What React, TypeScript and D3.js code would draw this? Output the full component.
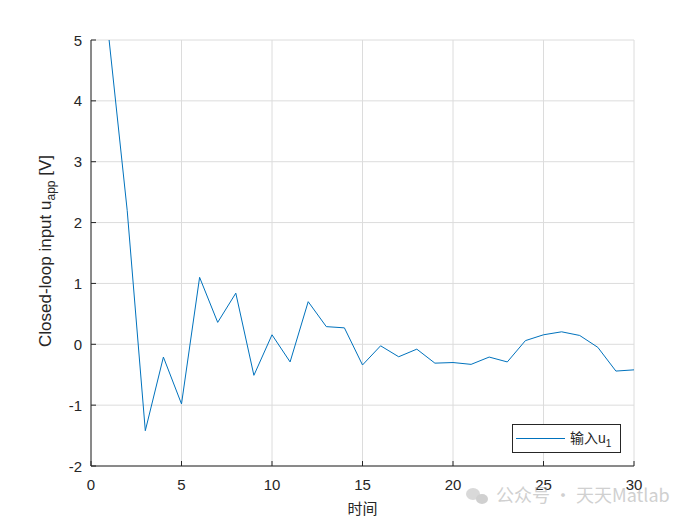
import React from "react";
import * as d3 from "d3";

const timeSteps = [1,2,3,4,5,6,7,8,9,10,11,12,13,14,15,16,17,18,19,20,21,22,23,24,25,26,27,28,29,30];
const inputU1 = [5.0,2.2,-1.42,-0.21,-0.98,1.10,0.36,0.84,-0.51,0.156,-0.29,0.70,0.29,0.27,-0.34,-0.025,-0.205,-0.08,-0.31,-0.30,-0.33,-0.21,-0.29,0.06,0.156,0.205,0.145,-0.05,-0.44,-0.42];
const xTicks = [0,5,10,15,20,25,30];
const yTicks = [-2,-1,0,1,2,3,4,5];

const W = 700, H = 525;
const L = 91, R = 634, T = 40, B = 466;

export default function App() {
  const x = d3.scaleLinear().domain([0, 30]).range([L, R]);
  const y = d3.scaleLinear().domain([-2, 5]).range([B, T]);
  const line = d3.line<number>().x((_, i) => x(timeSteps[i])).y(d => y(d));
  const font = "'Liberation Sans', Arial, Helvetica, sans-serif";
  const cjk = "'Noto Sans CJK SC', sans-serif";
  return (
    <svg width={W} height={H} style={{ position: "absolute", left: 0, top: 0, background: "#fff" }}>
      <rect x={0} y={0} width={W} height={H} fill="#fff" />
      <defs>
        <clipPath id="plot"><rect x={L} y={T} width={R - L} height={B - T} /></clipPath>
      </defs>
      {xTicks.map(t => (
        <line key={"gx" + t} x1={x(t)} x2={x(t)} y1={T} y2={B} stroke="#dcdcdc" strokeWidth={1} />
      ))}
      {yTicks.map(t => (
        <line key={"gy" + t} x1={L} x2={R} y1={y(t)} y2={y(t)} stroke="#dcdcdc" strokeWidth={1} />
      ))}
      <path d={line(inputU1) || ""} fill="none" stroke="#0072BD" strokeWidth={1} clipPath="url(#plot)" />
      <line x1={L} x2={L} y1={T} y2={B} stroke="#262626" strokeWidth={1} />
      <line x1={L} x2={R} y1={B} y2={B} stroke="#262626" strokeWidth={1} />
      {xTicks.map(t => (
        <g key={"tx" + t}>
          <line x1={x(t)} x2={x(t)} y1={B} y2={B - 5} stroke="#262626" />
          <text x={x(t)} y={B + 24} textAnchor="middle" fontFamily={font} fontSize={15} fill="#262626">{t}</text>
        </g>
      ))}
      {yTicks.map(t => (
        <g key={"ty" + t}>
          <line x1={L} x2={L + 5} y1={y(t)} y2={y(t)} stroke="#262626" />
          <text x={L - 9} y={y(t) + 5.5} textAnchor="end" fontFamily={font} fontSize={15} fill="#262626">{t}</text>
        </g>
      ))}
      <text transform={`translate(51,${(T + B) / 2 - 2}) rotate(-90)`} textAnchor="middle" fontFamily={font} fontSize={17} fill="#262626">
        Closed-loop input u<tspan fontSize={12} dy={4}>app</tspan><tspan dy={-4}> [V]</tspan>
      </text>
      <text x={(L + R) / 2} y={514} textAnchor="middle" fontFamily={cjk} fontSize={15} fill="#262626">时间</text>
      <g>
        <rect x={512.5} y={424.5} width={108} height={28} fill="#fff" stroke="#262626" strokeWidth={1} />
        <line x1={516} x2={565} y1={438.5} y2={438.5} stroke="#0072BD" strokeWidth={1} />
        <text x={570} y={443} fontFamily={cjk} fontSize={14} fill="#262626">输入<tspan fontFamily={font}>u</tspan><tspan fontFamily={font} fontSize={10} dy={4}>1</tspan></text>
      </g>
      <g opacity={0.55}>
        <ellipse cx={473} cy={494} rx={7} ry={6} fill="#bbb" />
        <ellipse cx={482} cy={499} rx={6} ry={5} fill="#aaa" />
        <text x={496} y={502} fontFamily={cjk} fontSize={18} fill="#aaa">公众号 · 天天Matlab</text>
      </g>
    </svg>
  );
}
